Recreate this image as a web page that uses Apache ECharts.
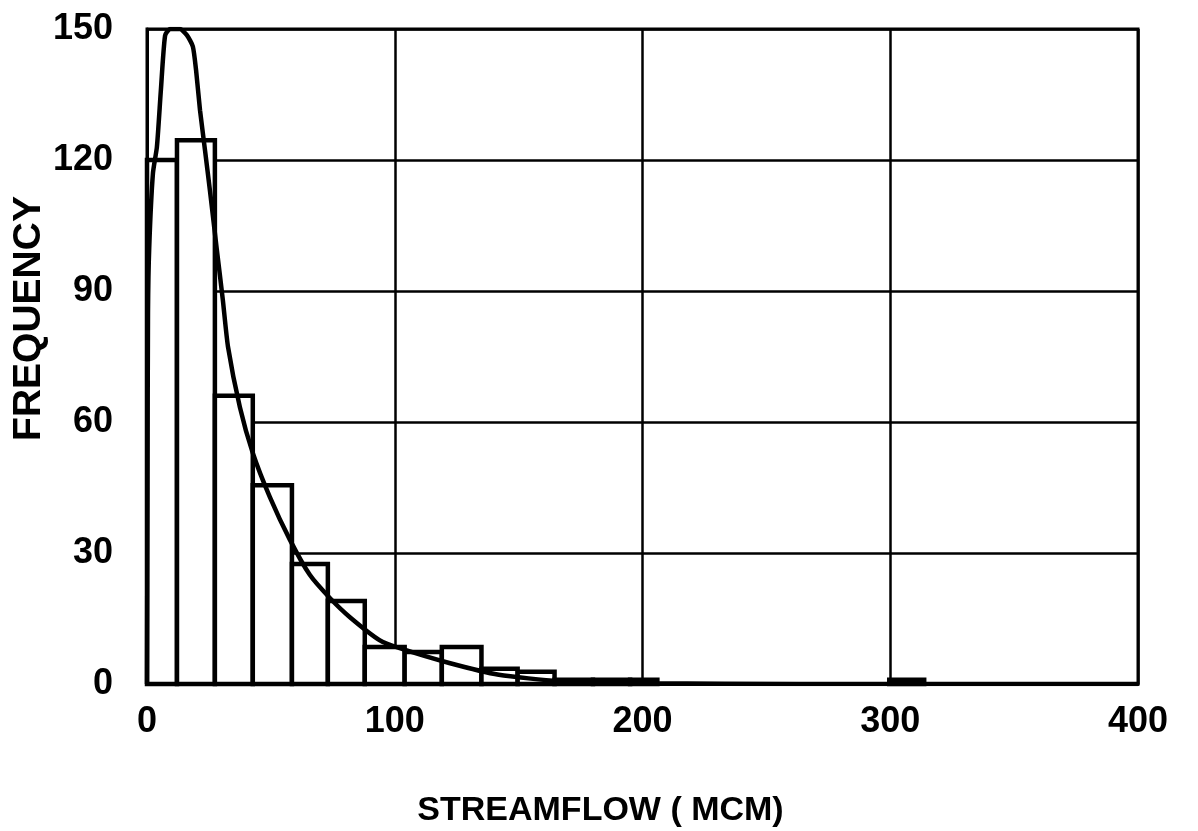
<!DOCTYPE html>
<html>
<head>
<meta charset="utf-8">
<script src="https://cdn.jsdelivr.net/npm/echarts@6/dist/echarts.min.js"></script>
<style>
  html, body { margin: 0; padding: 0; background: #fff; }
  #chart { width: 1198px; height: 831px; }
</style>
</head>
<body>
<div id="chart"></div>
<script>
// histogram bins (streamflow, MCM)
var binStart = [0, 12.1, 27.4, 42.7, 58.5, 73, 87.9, 104, 119, 135, 149.6, 164.5, 180, 195, 299.6];
var binEnd   = [12.1, 27.4, 42.7, 58.5, 73, 87.9, 104, 119, 135, 149.6, 164.5, 180, 195, 206, 313.7];
var freq     = [120, 124.5, 66, 45.5, 27.5, 19, 8.5, 7.3, 8.5, 3.5, 2.8, 1, 1, 1, 1];

// fitted density curve
var curveX = [0, 0.2, 0.4, 0.9, 2.4, 4, 5.6, 7.3, 9.3, 13.3, 16.1, 18.5, 19.8, 21.4, 23.4, 25.4, 28.2, 30.6, 32.7, 37.5, 42.7, 49.6, 57.7, 65.7, 73.8, 81.9, 94, 102, 122, 142, 166, 203, 263, 400];
var curveY = [0, 45, 85, 100, 117, 123, 136, 148.5, 150, 150, 148.6, 146, 140.6, 131.4, 122.3, 113, 99.4, 88, 77.2, 63.4, 52.9, 42.8, 33, 25, 19.7, 15.3, 10, 8.2, 4.8, 2.1, 0.7, 0.2, 0, 0];

var xTicks = [0, 100, 200, 300, 400];
var yTicks = [0, 30, 60, 90, 120, 150];

var bins = [];
for (var i = 0; i < freq.length; i++) {
  bins.push([binStart[i], binEnd[i], freq[i]]);
}
var curve = [];
for (var j = 0; j < curveX.length; j++) {
  curve.push([curveX[j], curveY[j]]);
}

var chart = echarts.init(document.getElementById('chart'));

var labelFont = {
  color: '#000',
  fontFamily: 'Liberation Sans',
  fontWeight: 'bold',
  fontSize: 36
};

var option = {
  animation: false,
  backgroundColor: '#fff',
  grid: {
    left: 147,
    right: 60,
    top: 29,
    bottom: 147,
    containLabel: false,
    outerBoundsMode: 'none',
    show: true,
    borderColor: '#000',
    borderWidth: 3
  },
  xAxis: {
    type: 'value',
    min: xTicks[0],
    max: xTicks[xTicks.length - 1],
    interval: 100,
    name: 'STREAMFLOW ( MCM)',
    nameLocation: 'middle',
    nameGap: 110,
    nameMoveOverlap: false,
    nameTextStyle: Object.assign({}, labelFont, { fontSize: 34, padding: [0, 84, 0, 0] }),
    axisLine: { show: true, lineStyle: { color: '#000', width: 3 } },
    axisTick: { show: false },
    axisLabel: Object.assign({ margin: 20 }, labelFont),
    splitLine: { show: true, lineStyle: { color: '#000', width: 2.5 } }
  },
  yAxis: {
    type: 'value',
    min: yTicks[0],
    max: yTicks[yTicks.length - 1],
    interval: 30,
    name: 'FREQUENCY',
    nameLocation: 'middle',
    nameGap: 98,
    nameMoveOverlap: false,
    nameTextStyle: Object.assign({}, labelFont, { fontSize: 39, padding: [0, 0, 0, 76] }),
    axisLine: { show: true, lineStyle: { color: '#000', width: 3 } },
    axisTick: { show: false },
    axisLabel: Object.assign({ margin: 34 }, labelFont),
    splitLine: { show: true, lineStyle: { color: '#000', width: 2.5 } }
  },
  series: [{
    type: 'custom',
    z: 2,
    data: bins,
    encode: { x: [0, 1], y: 2 },
    renderItem: function (params, api) {
      var p0 = api.coord([api.value(0), api.value(2)]);
      var p1 = api.coord([api.value(1), 0]);
      return {
        type: 'rect',
        shape: { x: p0[0], y: p0[1], width: p1[0] - p0[0], height: p1[1] - p0[1] },
        style: { fill: '#fff', stroke: '#000', lineWidth: 4.5 }
      };
    }
  }, {
    type: 'line',
    z: 3,
    data: curve,
    symbol: 'none',
    smooth: 0.2,
    lineStyle: { color: '#000', width: 4.5 }
  }]
};

chart.setOption(option);
</script>
</body>
</html>
